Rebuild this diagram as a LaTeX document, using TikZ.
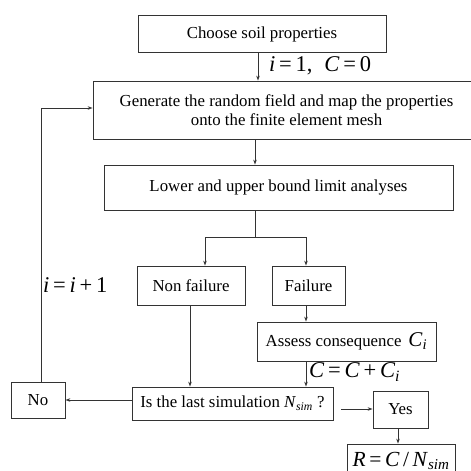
\documentclass[tikz,border=0pt]{standalone}
\usepackage{fontspec}
\setmainfont{Liberation Serif}
\usetikzlibrary{arrows.meta,calc}
\newcommand{\mi}[1]{\textit{#1}}
\newcommand{\msub}[2]{\textit{#1}\textsubscript{\textit{#2}}}
\begin{document}
\begin{tikzpicture}[x=1pt,y=-1pt,
  box/.style={draw=black!80,line width=0.8pt,rectangle,inner sep=0pt,align=center,font=\fontsize{16.8}{19.5}\selectfont},
  arr/.style={draw=black!80,line width=0.8pt,-{Stealth[length=5pt,width=3.5pt]}},
  ln/.style={draw=black!80,line width=0.8pt},
  lab/.style={font=\fontsize{22.5}{24}\selectfont,inner sep=0pt}]
\useasboundingbox (0,0) rectangle (471,471);
\clip (0,0) rectangle (471,471);
\node[box,minimum width=248pt,minimum height=37pt] (choose) at (262,34) {Choose soil properties};
\node[box,minimum width=387pt,minimum height=58pt] (gen) at (286.5,110) {Generate the random field and map the properties\\onto the finite element mesh};
\node[box,minimum width=349pt,minimum height=45pt] (lower) at (278.5,187.5) {Lower and upper bound limit analyses};
\node[box,minimum width=108pt,minimum height=39pt] (nonfail) at (191,285.5) {Non failure};
\node[box,minimum width=73pt,minimum height=39pt] (fail) at (308.5,285.5) {Failure};
\node[box,minimum width=179pt,minimum height=39pt] (assess) at (346.5,341.5) {Assess consequence \,{\fontsize{21}{22}\selectfont\msub{C}{i}}};
\node[box,minimum width=201pt,minimum height=33pt] (is) at (232.5,403.5) {Is the last simulation \msub{N}{sim} ?};
\node[box,minimum width=54pt,minimum height=36pt] (no) at (38,400) {No};
\node[box,minimum width=55pt,minimum height=37pt] (yes) at (400.5,409.5) {Yes};
\node[box,minimum width=108pt,minimum height=34pt,font=\fontsize{21.5}{22}\selectfont] (res) at (401,461) {\mi{R}\,=\,\mi{C}\,/\,\msub{N}{sim}};
% labels
\node[lab,anchor=west] (l1) at (269,66) {\mi{i}\,=\,1,\; \mi{C}\,=\,0};
\node[lab,anchor=west] (l2) at (43,285) {\mi{i}\,=\,\mi{i}\,+\,1};
\node[lab,anchor=west] (l3) at (309,372) {\mi{C}\,=\,\mi{C}\,+\,\msub{C}{i}};
% helper coordinates
\coordinate (x258) at (258,0);
\coordinate (x255) at (255,0);
\coordinate (x205) at (205,0);
\coordinate (x306) at (306,0);
\coordinate (x190) at (190,0);
\coordinate (x41) at (41,0);
\coordinate (x398) at (398,0);
\coordinate (ybr) at (0,237);
\coordinate (yno) at (0,400);
\coordinate (yloop) at (0,108);
\coordinate (yyes) at (0,409);
\coordinate (freestart) at (341,409);
% connectors
\draw[arr] (choose.south -| x258) -- (gen.north -| x258);
\draw[arr] (gen.south -| x255) -- (lower.north -| x255);
\draw[ln] (lower.south -| x255) -- (x255 |- ybr);
\draw[arr] (x205 |- ybr) -- (nonfail.north -| x205);
\draw[arr] (x306 |- ybr) -- (fail.north -| x306);
\draw[ln] (x205 |- ybr) -- (x306 |- ybr);
\draw[arr] (fail.south -| x306) -- (assess.north -| x306);
\draw[arr] (assess.south -| x306) -- (is.north -| x306);
\draw[arr] (nonfail.south -| x190) -- (is.north -| x190);
\draw[arr] (is.west |- yno) -- (no.east |- yno);
\draw[arr] (no.north -| x41) -- (x41 |- yloop) -- (gen.west |- yloop);
\draw[arr] (freestart) -- (yes.west |- yyes);
\draw[arr] (yes.south -| x398) -- (res.north -| x398);
\end{tikzpicture}
\end{document}
